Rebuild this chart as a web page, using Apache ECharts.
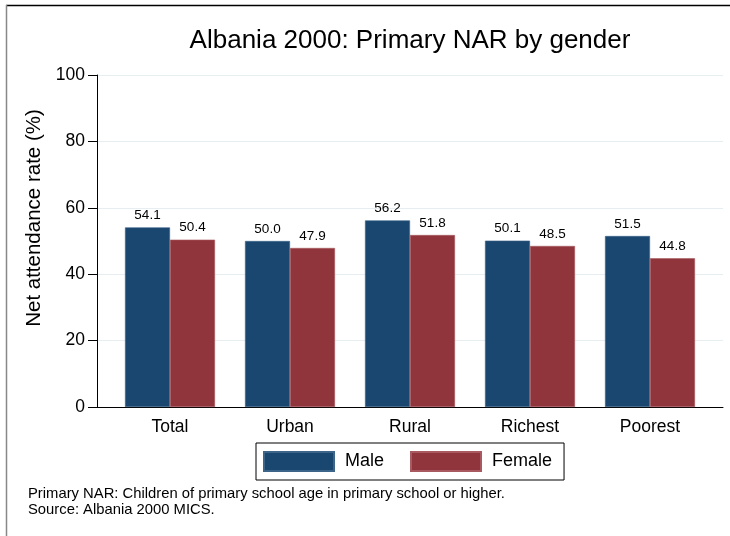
<!DOCTYPE html>
<html>
<head>
<meta charset="utf-8">
<script src="https://cdn.jsdelivr.net/npm/echarts@6/dist/echarts.min.js"></script>
<style>
html,body{margin:0;padding:0;background:#fff;}
#c{width:730px;height:536px;}
</style>
</head>
<body>
<div id="c"></div>
<script>
const titleText = 'Albania 2000: Primary NAR by gender';
const categories = ['Total', 'Urban', 'Rural', 'Richest', 'Poorest'];
const maleValues = [54.1, 50.0, 56.2, 50.1, 51.5];
const femaleValues = [50.4, 47.9, 51.8, 48.5, 44.8];
const seriesNames = ['Male', 'Female'];
const yTicks = [0, 20, 40, 60, 80, 100];
const yAxisName = 'Net attendance rate (%)';
const noteLines = ['Primary NAR: Children of primary school age in primary school or higher.', 'Source: Albania 2000 MICS.'];

const FONT = 'Liberation Sans, Arial, sans-serif';
const chart = echarts.init(document.getElementById('c'), null, {renderer: 'canvas'});

const valueLabel = {
  show: true, position: 'top', distance: 5,
  fontFamily: FONT, fontSize: 13.5, color: '#000',
  formatter: p => Number(p.value).toFixed(1)
};

chart.setOption({
  backgroundColor: '#fff',
  animation: false,
  title: {
    text: titleText, left: 405, top: 23, textAlign: 'center',
    textStyle: {fontFamily: FONT, fontSize: 26, fontWeight: 'normal', color: '#000'}
  },
  legend: {
    data: seriesNames, left: 256, top: 443,
    itemWidth: 70, itemHeight: 19, itemGap: 26,
    padding: [8, 12, 8, 7],
    borderColor: '#000', borderWidth: 1,
    selectedMode: false,
    icon: 'rect',
    textStyle: {fontFamily: FONT, fontSize: 18, color: '#000', padding: [0, 0, 0, 6]}
  },
  grid: [
    {left: 97, right: 7, top: 75, bottom: 129},
    {left: 110, width: 600, top: 75, bottom: 129}
  ],
  xAxis: [
    {gridIndex: 0, type: 'category', data: [''],
     axisLine: {show: true, lineStyle: {color: '#000', width: 1}},
     axisTick: {show: false}, axisLabel: {show: false}, splitLine: {show: false}},
    {gridIndex: 1, type: 'category', data: categories,
     axisLine: {show: false}, axisTick: {show: false},
     axisLabel: {fontFamily: FONT, fontSize: 17.5, color: '#000', margin: 11}}
  ],
  yAxis: [
    {gridIndex: 0, type: 'value', min: yTicks[0], max: yTicks[yTicks.length - 1], interval: 20,
     name: yAxisName, nameLocation: 'middle', nameGap: 49,
     nameTextStyle: {fontFamily: FONT, fontSize: 20.5, color: '#000', padding: [0, 0, 0, 46]},
     axisLine: {show: true, lineStyle: {color: '#000', width: 1}},
     axisTick: {show: true, length: 9, lineStyle: {color: '#000'}},
     axisLabel: {fontFamily: FONT, fontSize: 17.5, color: '#000', margin: 12},
     splitLine: {show: true, lineStyle: {color: '#e6eef1', width: 1}}},
    {gridIndex: 1, type: 'value', min: yTicks[0], max: yTicks[yTicks.length - 1],
     show: false, splitLine: {show: false}}
  ],
  series: [
    {name: seriesNames[0], type: 'bar', xAxisIndex: 1, yAxisIndex: 1, data: maleValues,
     barGap: '0%', barCategoryGap: '25%',
     itemStyle: {color: '#1a476f', borderColor: '#3d6589', borderWidth: 0.6},
     label: valueLabel},
    {name: seriesNames[1], type: 'bar', xAxisIndex: 1, yAxisIndex: 1, data: femaleValues,
     barGap: '0%', barCategoryGap: '25%',
     itemStyle: {color: '#90353b', borderColor: '#a85a60', borderWidth: 0.6},
     label: valueLabel}
  ],
  graphic: [
    {type: 'text', left: 28, top: 486,
     style: {text: noteLines.join('\n'), fontFamily: FONT, fontSize: 14.8, lineHeight: 16, fill: '#000'}},
    {type: 'line', shape: {x1: 6, y1: 5.5, x2: 730, y2: 5.5}, style: {stroke: '#000', lineWidth: 1.5}},
    {type: 'line', shape: {x1: 6.5, y1: 5, x2: 6.5, y2: 536}, style: {stroke: '#888', lineWidth: 1.5}}
  ]
});
</script>
</body>
</html>
